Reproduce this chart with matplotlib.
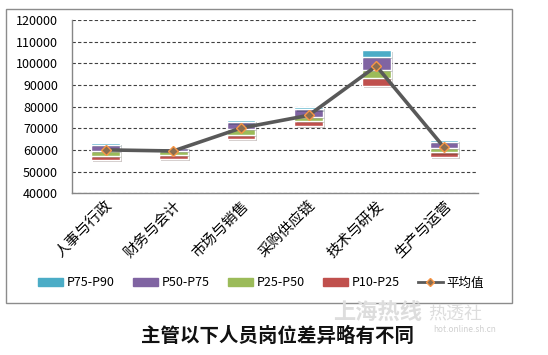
import matplotlib.pyplot as plt
import matplotlib.patheffects as pe
from matplotlib.patches import Patch, Rectangle
from matplotlib.lines import Line2D

plt.rcParams['font.family'] = ['Noto Sans CJK SC', 'DejaVu Sans']

categories = ['人事与行政', '财务与会计', '市场与销售', '采购供应链', '技术与研发', '生产与运营']
p10 = [55300, 55800, 65000, 71100, 89600, 56700]
p25 = [57400, 57500, 67100, 73200, 93300, 58800]
p50 = [59300, 59300, 69700, 75200, 97200, 60900]
p75 = [62300, 61100, 72700, 78700, 103200, 63600]
p90 = [63400, 61400, 73800, 79700, 106200, 64400]
average = [60000, 59500, 70100, 76000, 98800, 61200]

colors = {'P75-P90': '#4BACC6', 'P50-P75': '#8064A2', 'P25-P50': '#9BBB59', 'P10-P25': '#C0504D'}

fig = plt.figure(figsize=(5.48, 3.55), dpi=100)
ax = fig.add_axes([0.131, 0.456, 0.741, 0.487])

x = list(range(len(categories)))
shadow = [pe.SimplePatchShadow(offset=(1.5, -1.5), alpha=0.25), pe.Normal()]

segments = [
    ('P10-P25', p10, p25),
    ('P25-P50', p25, p50),
    ('P50-P75', p50, p75),
    ('P75-P90', p75, p90),
]
for name, lo, hi in segments:
    heights = [h - l for l, h in zip(lo, hi)]
    bars = ax.bar(x, heights, bottom=lo, width=0.42, color=colors[name],
                  edgecolor='white', linewidth=1.0, zorder=3)
    for b in bars:
        b.set_path_effects(shadow)

ax.plot(x, average, color='#595959', linewidth=2.6, marker='D', markersize=5.5,
        markerfacecolor='#8a6d50', markeredgecolor='#F79646', markeredgewidth=1.0, zorder=4)

ax.set_ylim(40000, 120000)
ax.set_xlim(-0.5, len(categories) - 0.5)
ax.set_yticks(range(40000, 120001, 10000))
ax.tick_params(axis='y', length=0, labelsize=9, pad=10)
ax.tick_params(axis='x', length=0, pad=4)
ax.set_xticks(x)
ax.set_xticklabels(categories, rotation=45, ha='right', va='top',
                   rotation_mode='anchor', fontsize=10.5)
ax.yaxis.grid(True, linestyle=(0, (3, 2)), color='#404040', linewidth=0.8)
ax.set_axisbelow(True)
for s in ['top', 'right']:
    ax.spines[s].set_visible(False)
for s in ['left', 'bottom']:
    ax.spines[s].set_color('#868686')
    ax.spines[s].set_linewidth(1.0)

handles = [Patch(color=colors[k]) for k in ['P75-P90', 'P50-P75', 'P25-P50', 'P10-P25']]
handles.append(Line2D([0], [0], color='#595959', linewidth=2, marker='D', markersize=4,
                      markerfacecolor='#8a6d50', markeredgecolor='#F79646'))
labels = ['P75-P90', 'P50-P75', 'P25-P50', 'P10-P25', '平均值']
fig.legend(handles, labels, loc='center', bbox_to_anchor=(261 / 548, 1 - 283 / 355),
           ncol=5, frameon=False, fontsize=9, handlelength=2.0, handleheight=0.6,
           columnspacing=1.45, handletextpad=0.3)

# chart border
fig.patches.append(Rectangle((6 / 548, 1 - 303 / 355), 506 / 548, 294 / 355,
                             transform=fig.transFigure, fill=False,
                             edgecolor='#8c8c8c', linewidth=1.0))

# watermark
fig.text(378 / 548, 1 - 313 / 355, '上海热线', fontsize=16, color='#dddddd',
         ha='center', va='center', style='italic', weight='bold')
fig.text(455 / 548, 1 - 313 / 355, '热透社', fontsize=13, color='#dddddd',
         ha='center', va='center')
fig.text(465 / 548, 1 - 330 / 355, 'hot.online.sh.cn', fontsize=6, color='#d0d0d0',
         ha='center', va='center')

fig.text(278 / 548, 1 - 336 / 355, '主管以下人员岗位差异略有不同', fontsize=14,
         weight='bold', ha='center', va='center', color='#111111')

fig.savefig('out.png', dpi=100)
